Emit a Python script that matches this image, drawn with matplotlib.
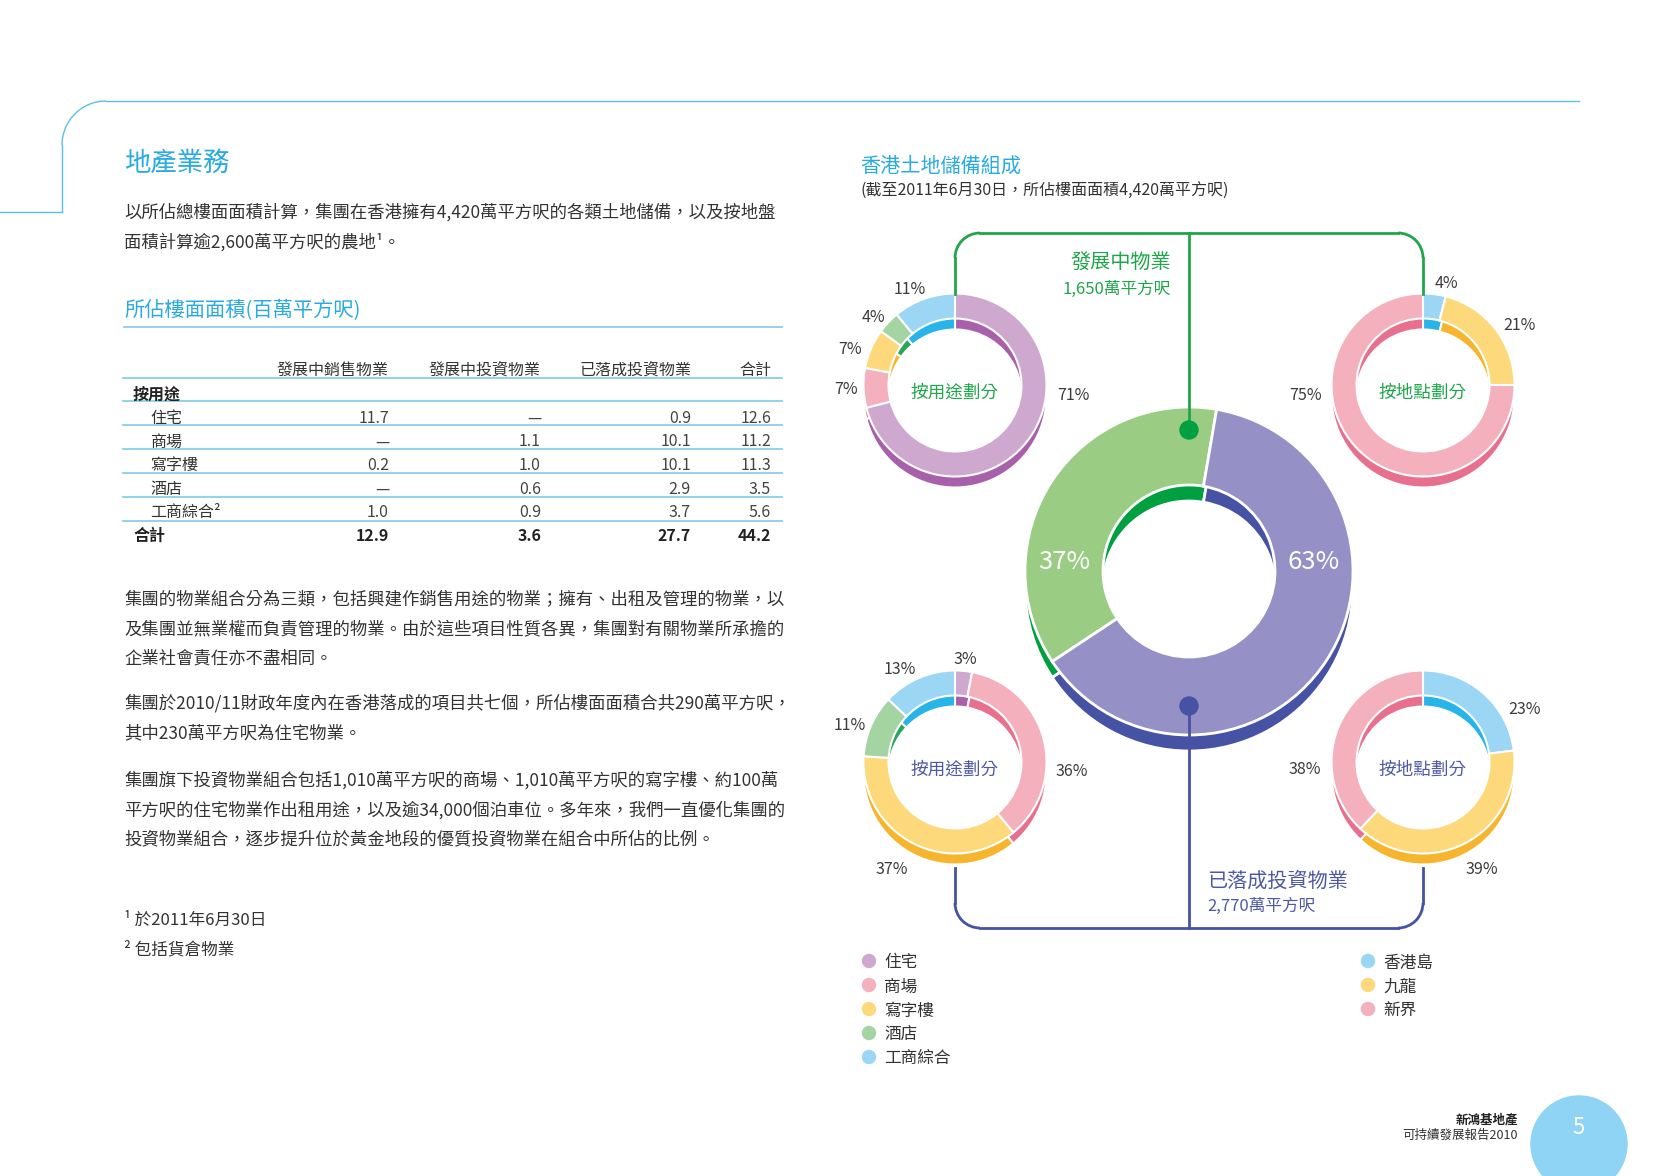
import matplotlib.pyplot as plt
from matplotlib.patches import Arc, Circle

plt.rcParams['font.family'] = ['Noto Sans CJK TC', 'DejaVu Sans']

# ---------------- data ----------------
table_columns = ['發展中銷售物業', '發展中投資物業', '已落成投資物業', '合計']
table_rows = ['住宅', '商場', '寫字樓', '酒店', '工商綜合²']
sale_dev = [11.7, None, 0.2, None, 1.0]
invest_dev = [None, 1.1, 1.0, 0.6, 0.9]
invest_done = [0.9, 10.1, 10.1, 2.9, 3.7]
row_totals = [12.6, 11.2, 11.3, 3.5, 5.6]
col_totals = [12.9, 3.6, 27.7, 44.2]

use_labels = ['住宅', '商場', '寫字樓', '酒店', '工商綜合']
loc_labels = ['香港島', '九龍', '新界']
dev_by_use = [71, 7, 7, 4, 11]
dev_by_loc = [4, 21, 75]
done_by_use = [3, 36, 37, 11, 13]
done_by_loc = [23, 39, 38]

bank_labels = ['發展中物業', '已落成投資物業']
bank_area = ['1,650萬平方呎', '2,770萬平方呎']
bank_pct = [37, 63]

intro_lines = ['以所佔總樓面面積計算，集團在香港擁有4,420萬平方呎的各類土地儲備，以及按地盤',
               '面積計算逾2,600萬平方呎的農地¹。']
para_lines = [
    ['集團的物業組合分為三類，包括興建作銷售用途的物業；擁有、出租及管理的物業，以',
     '及集團並無業權而負責管理的物業。由於這些項目性質各異，集團對有關物業所承擔的',
     '企業社會責任亦不盡相同。'],
    ['集團於2010/11財政年度內在香港落成的項目共七個，所佔樓面面積合共290萬平方呎，',
     '其中230萬平方呎為住宅物業。'],
    ['集團旗下投資物業組合包括1,010萬平方呎的商場、1,010萬平方呎的寫字樓、約100萬',
     '平方呎的住宅物業作出租用途，以及逾34,000個泊車位。多年來，我們一直優化集團的',
     '投資物業組合，逐步提升位於黃金地段的優質投資物業在組合中所佔的比例。'],
]
footnotes = ['¹ 於2011年6月30日', '² 包括貨倉物業']

# ---------------- styles ----------------
BLUE_TITLE = '#29abe2'
LINE_BLUE = '#7fcbe8'
TEXT = '#333333'
GREEN = '#1fa64a'
NAVY = '#4f58a5'
use_light = ['#cfa8d0', '#f4b0bc', '#fdd97c', '#a3d4a2', '#9bd6f4']
use_dark = ['#a760a9', '#e8708f', '#f6b52c', '#2aa65c', '#27b4e9']
loc_light = ['#9bd6f4', '#fdd97c', '#f4b0bc']
loc_dark = ['#27b4e9', '#f6b52c', '#e8708f']
bank_light = ['#9bcc84', '#9591c6']
bank_dark = ['#00a040', '#4652a3']

TY = 2  # small downward nudge for text baselines


def donut(ax, values, light, dark, center, R, r, d, start, lw=1.5):
    cx, cy = center
    kw = dict(startangle=start, counterclock=True, radius=R)
    # darker copy shifted down gives the 3D thickness
    ax.pie(values, colors=dark, center=(cx, cy + d),
           wedgeprops=dict(width=R - r, edgecolor='white', linewidth=lw), **kw)
    ax.pie(values, colors=light, center=(cx, cy),
           wedgeprops=dict(width=R - r, edgecolor='white', linewidth=lw), **kw)


def fmt(v):
    return '—' if v is None else f'{v:.1f}'


fig = plt.figure(figsize=(16.64, 11.76), dpi=100)
ax = fig.add_axes([0, 0, 1, 1])

# page frame line
ax.plot([0, 62], [212, 212], color='#5bc0e8', lw=1)
ax.plot([62, 62], [212, 145], color='#5bc0e8', lw=1)
ax.add_patch(Arc((106, 145), 88, 88, theta1=180, theta2=270, color='#5bc0e8', lw=1))
ax.plot([106, 1579], [101, 101], color='#5bc0e8', lw=1)

# ---------------- left column ----------------
ax.text(124, 161 + TY, '地產業務', fontsize=19, color=BLUE_TITLE, va='center')
for i, line in enumerate(intro_lines):
    ax.text(124, 210 + TY + 30 * i, line, fontsize=12.5, color=TEXT, va='center')

ax.text(124, 309 + TY, '所佔樓面面積(百萬平方呎)', fontsize=14.6, color=BLUE_TITLE, va='center')
ax.plot([124, 782], [327, 327], color=LINE_BLUE, lw=1.2)

col_x = [389, 541, 691, 771]
for x, name in zip(col_x, table_columns):
    ax.text(x, 368 + TY, name, fontsize=11.5, color=TEXT, ha='right', va='center')
for y in [378, 401, 425, 449, 473, 497, 521]:
    ax.plot([123, 782], [y, y], color=LINE_BLUE, lw=1.2)

ax.text(133, 393 + TY, '按用途', fontsize=11.5, color='#222222', weight='bold', va='center')
for i, name in enumerate(table_rows):
    y = 416.5 + TY + 23.5 * i
    ax.text(150, y, name, fontsize=11.5, color=TEXT, va='center')
    vals = [sale_dev[i], invest_dev[i], invest_done[i], row_totals[i]]
    for x, v in zip(col_x, vals):
        ax.text(x, y, fmt(v), fontsize=11.5, color='#444444', ha='right', va='center')
ax.text(133, 534 + TY, '合計', fontsize=11.5, color='#222222', weight='bold', va='center')
for x, v in zip(col_x, col_totals):
    ax.text(x, 534 + TY, fmt(v), fontsize=11.5, color='#222222', weight='bold',
            ha='right', va='center')

para_y = [[597, 627, 657], [701, 731], [778, 808, 837]]
for lines, ys in zip(para_lines, para_y):
    for line, y in zip(lines, ys):
        ax.text(124, y + TY, line, fontsize=12.5, color=TEXT, va='center')

for i, note in enumerate(footnotes):
    ax.text(124, 918 + TY + 30 * i, note, fontsize=12, color=TEXT, va='center')

# ---------------- right column ----------------
ax.text(860, 164 + TY, '香港土地儲備組成', fontsize=14.5, color=BLUE_TITLE, va='center')
ax.text(860, 189 + TY, '(截至2011年6月30日，所佔樓面面積4,420萬平方呎)', fontsize=11.5,
        color=TEXT, va='center')

# connector lines
ax.plot([955, 955], [294, 258], color=GREEN, lw=2)
ax.add_patch(Arc((980, 258), 50, 50, theta1=180, theta2=270, color=GREEN, lw=2))
ax.plot([980, 1398], [233, 233], color=GREEN, lw=2)
ax.add_patch(Arc((1398, 258), 50, 50, theta1=270, theta2=360, color=GREEN, lw=2))
ax.plot([1423, 1423], [258, 294], color=GREEN, lw=2)
ax.plot([1189, 1189], [233, 430], color=GREEN, lw=2, zorder=3)

ax.plot([955, 955], [868, 903], color='#4652a3', lw=2)
ax.add_patch(Arc((980, 903), 50, 50, theta1=90, theta2=180, color='#4652a3', lw=2))
ax.plot([980, 1398], [928, 928], color='#4652a3', lw=2)
ax.add_patch(Arc((1398, 903), 50, 50, theta1=0, theta2=90, color='#4652a3', lw=2))
ax.plot([1423, 1423], [903, 868], color='#4652a3', lw=2)
ax.plot([1189, 1189], [706, 928], color='#4652a3', lw=2, zorder=3)

# big donut (y axis is inverted, so counterclock runs clockwise on screen)
donut(ax, bank_pct, bank_light, bank_dark, (1189, 571), 164, 86, 16, 146.5, lw=2)
ax.text(1064, 562, f'{bank_pct[0]}%', fontsize=18.5, color='white', ha='center', va='center')
ax.text(1314, 562, f'{bank_pct[1]}%', fontsize=18.5, color='white', ha='center', va='center')
ax.add_patch(Circle((1189, 430), 9, color=bank_dark[0], zorder=4))
ax.add_patch(Circle((1189, 706), 9, color=bank_dark[1], zorder=4))

ax.text(1171, 261 + TY, bank_labels[0], fontsize=14.5, color=GREEN, ha='right', va='center')
ax.text(1171, 287 + TY, bank_area[0], fontsize=12, color=GREEN, ha='right', va='center')
ax.text(1207, 879 + TY, bank_labels[1], fontsize=14.5, color=NAVY, va='center')
ax.text(1207, 904 + TY, bank_area[1], fontsize=12, color=NAVY, va='center')

# small donuts
small = [
    (dev_by_use, use_light, use_dark, (955, 385), '按用途劃分', GREEN,
     [(118, 8), (-109, 3), (-105, -38), (-82, -70), (-45, -97)]),
    (dev_by_loc, loc_light, loc_dark, (1423, 385), '按地點劃分', GREEN,
     [(23, -104), (97, -62), (-117, 8)]),
    (done_by_use, use_light, use_dark, (955, 762), '按用途劃分', NAVY,
     [(10, -104), (117, 8), (-63, 106), (-105, -39), (-55, -94)]),
    (done_by_loc, loc_light, loc_dark, (1423, 762), '按地點劃分', NAVY,
     [(102, -55), (59, 106), (-118, 6)]),
]
for vals, light, dark, (cx, cy), title, tcolor, offsets in small:
    donut(ax, vals, light, dark, (cx, cy), 91.5, 66.5, 11, -90)
    ax.text(cx, cy + 8, title, fontsize=12.7, color=tcolor, ha='center', va='center')
    for v, (dx, dy) in zip(vals, offsets):
        ax.text(cx + dx, cy + dy + TY, f'{v}%', fontsize=11.5, color='#3c3c3c',
                ha='center', va='center')

# legends
for i, name in enumerate(use_labels):
    y = 961 + 24 * i
    ax.add_patch(Circle((869, y), 6.5, color=use_light[i]))
    ax.text(884, y + TY, name, fontsize=12, color=TEXT, va='center')
for i, name in enumerate(loc_labels):
    y = 961 + 24 * i
    ax.add_patch(Circle((1368, y), 6.5, color=loc_light[i]))
    ax.text(1383, y + TY, name, fontsize=12, color=TEXT, va='center')

# footer
ax.text(1518, 1118 + TY, '新鴻基地產', fontsize=9, color='#222222', weight='bold',
        ha='right', va='center')
ax.text(1518, 1133 + TY, '可持續發展報告2010', fontsize=9, color=TEXT, ha='right', va='center')
ax.add_patch(Circle((1579, 1144), 48, color='#8fd3f5'))
ax.text(1579, 1128, '5', fontsize=16, color='white', ha='center', va='center')

ax.set_xlim(0, 1664)
ax.set_ylim(1176, 0)
ax.set_aspect('equal')
ax.axis('off')

fig.savefig('out.png', dpi=100, facecolor='white')
